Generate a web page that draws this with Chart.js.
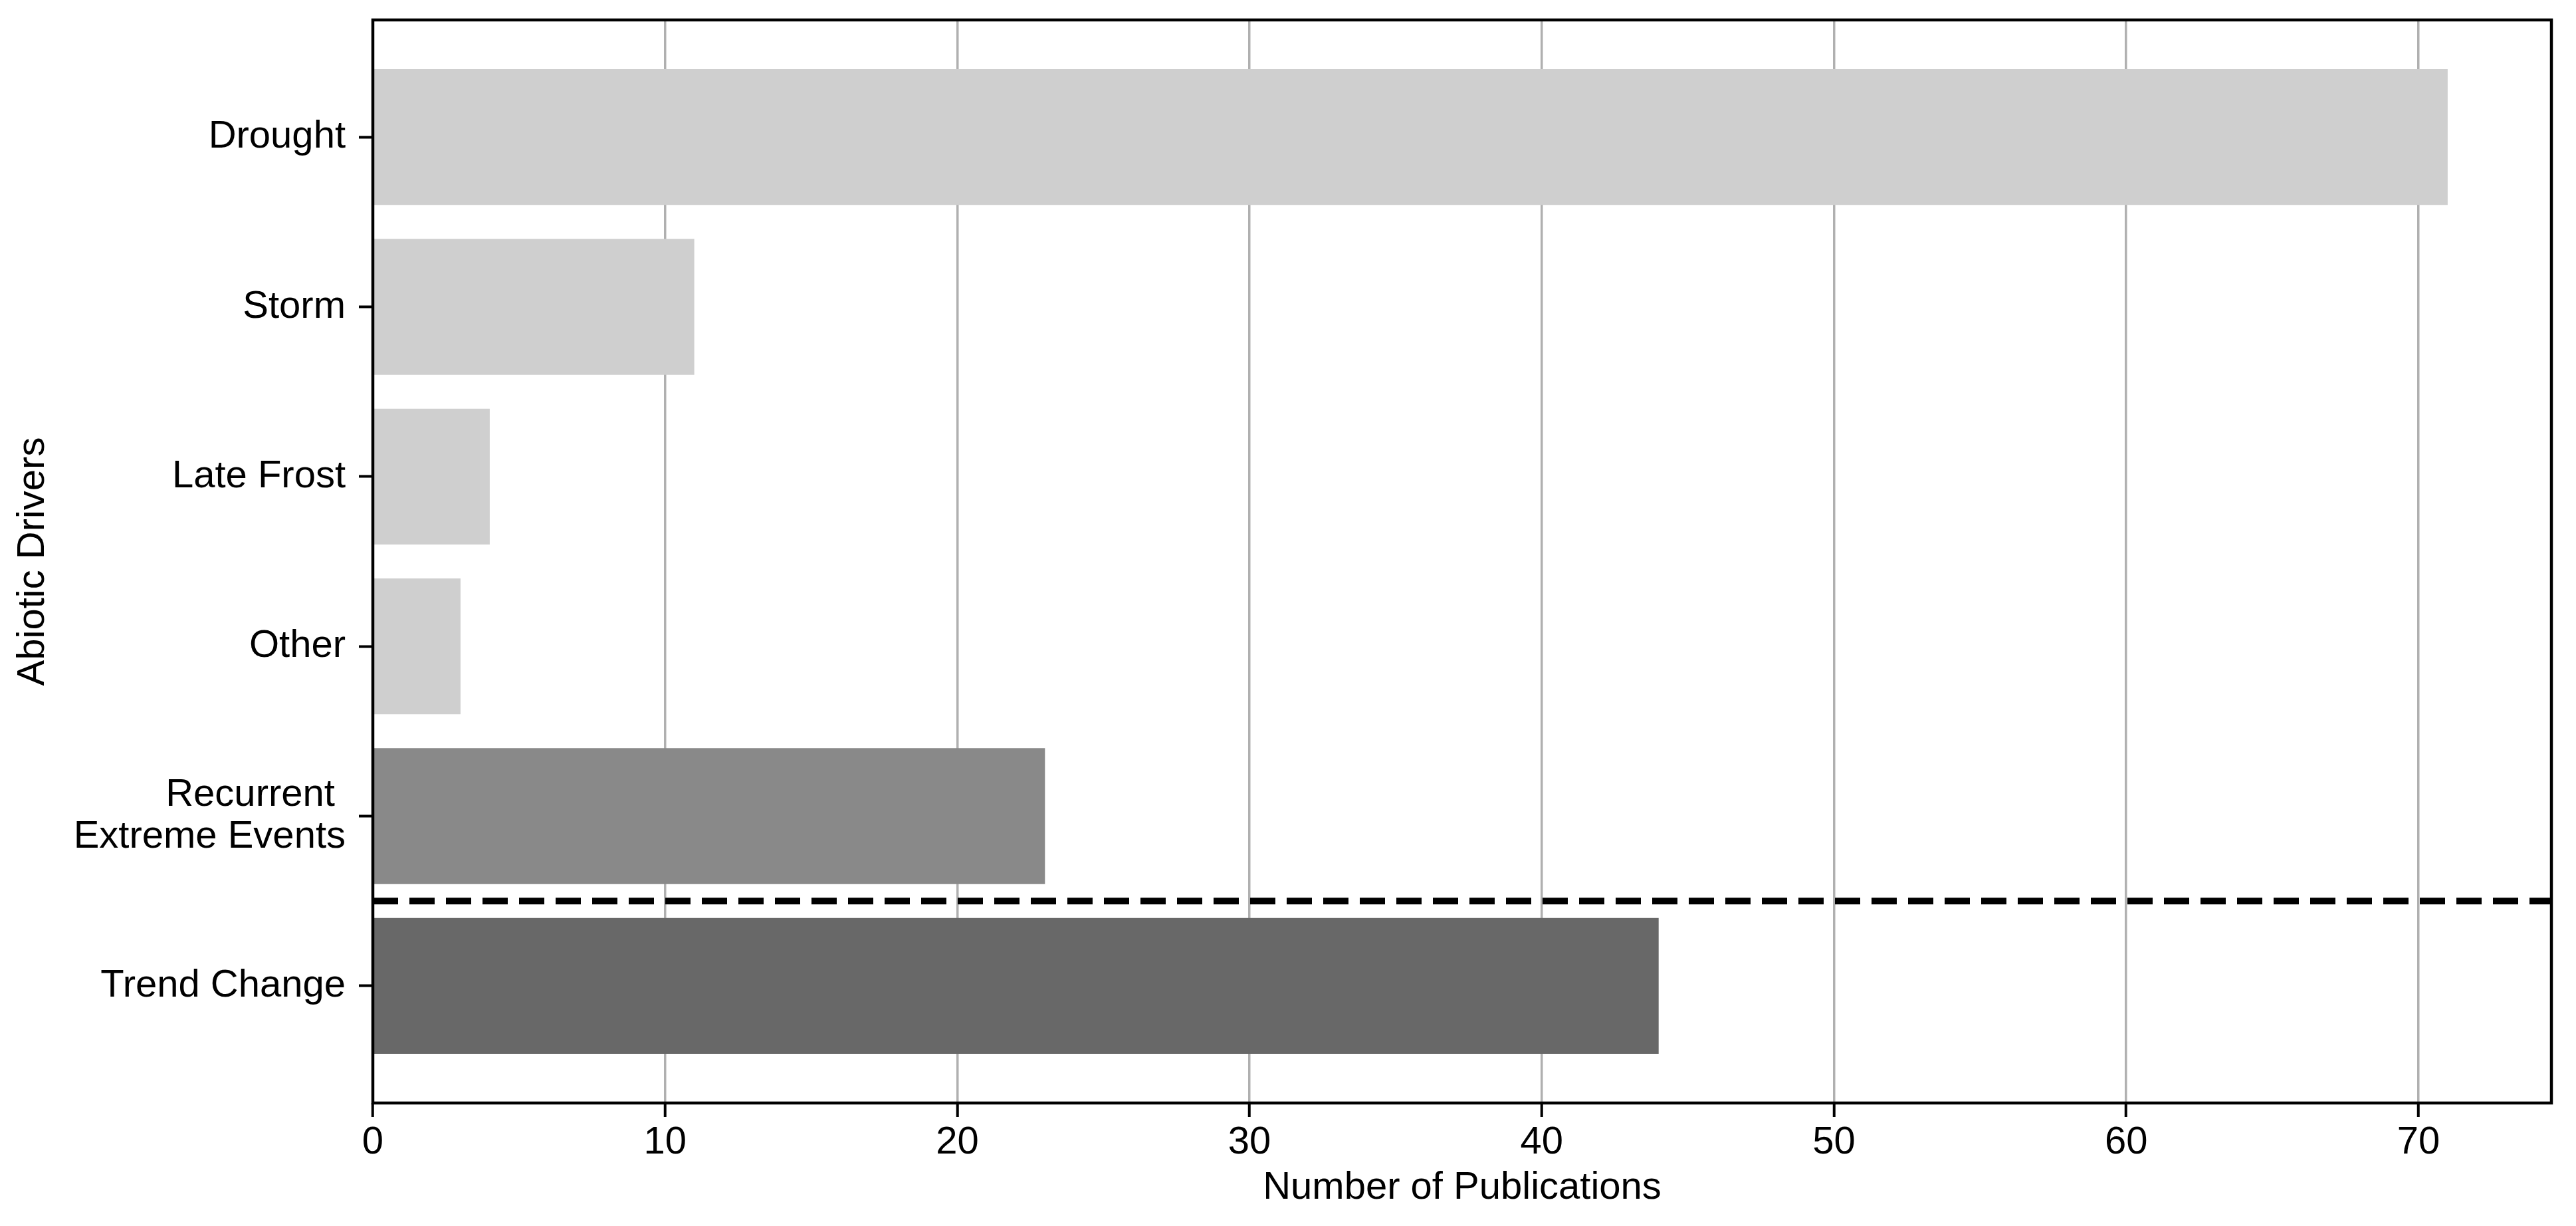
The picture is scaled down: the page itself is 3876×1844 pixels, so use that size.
<!DOCTYPE html>
<html>
<head>
<meta charset="utf-8">
<script src="https://cdn.jsdelivr.net/npm/chart.js@4/dist/chart.umd.min.js"></script>
<style>
  html, body { margin: 0; padding: 0; background: #fff; }
  canvas { display: block; }
</style>
</head>
<body>
<canvas id="chart" width="3876" height="1844"></canvas>
<script>
// --- datos ---
const drivers = ['Drought', 'Storm', 'Late Frost', 'Other', ['Recurrent ', 'Extreme Events'], 'Trend Change'];
const publications = [71, 11, 4, 3, 23, 44];
const barColors = ['#cfcfcf', '#cfcfcf', '#cfcfcf', '#cfcfcf', '#898989', '#686868'];
const xTicks = [0, 10, 20, 30, 40, 50, 60, 70];
const separatorAt = 4.5; // linea discontinua entre "Recurrent" y "Trend Change"

const FONT = "'Liberation Sans', Arial, Helvetica, sans-serif";

// marco y linea discontinua encima de las barras
const framePlugin = {
    id: 'frame',
    afterDatasetsDraw(chart) {
        const { ctx, chartArea: a, scales } = chart;
        const y = scales.y.getPixelForValue(separatorAt);
        ctx.save();
        ctx.strokeStyle = '#000';
        ctx.lineWidth = 10;
        ctx.setLineDash([38, 17]);
        ctx.beginPath();
        ctx.moveTo(a.left, y);
        ctx.lineTo(a.right, y);
        ctx.stroke();
        ctx.setLineDash([]);
        ctx.lineWidth = 4.5;
        ctx.strokeRect(a.left, a.top, a.right - a.left, a.bottom - a.top);
        ctx.restore();
    }
};

new Chart(document.getElementById('chart'), {
    type: 'bar',
    data: {
        datasets: [{
            data: publications.map((v, i) => ({ x: v, y: i })),
            backgroundColor: barColors,
            borderWidth: 0,
            categoryPercentage: 1.0,
            barPercentage: 0.8
        }]
    },
    options: {
        indexAxis: 'y',
        responsive: false,
        animation: false,
        devicePixelRatio: 1,
        layout: { padding: { left: 0, top: 30, right: 37, bottom: 0 } },
        plugins: {
            legend: { display: false },
            tooltip: { enabled: false }
        },
        scales: {
            x: {
                type: 'linear',
                min: 0,
                max: 74.55,
                afterBuildTicks: axis => { axis.ticks = xTicks.map(v => ({ value: v })); },
                afterFit: scale => {
                    scale.height = 185;
                    scale.paddingLeft = 0;
                    scale.paddingRight = 0;
                },
                border: { display: false },
                grid: {
                    color: '#b0b0b0',
                    lineWidth: 3.5,
                    tickColor: '#000',
                    tickWidth: 4,
                    tickLength: 21
                },
                ticks: {
                    color: '#000',
                    font: { family: FONT, size: 58 },
                    padding: 4,
                    maxRotation: 0
                },
                title: {
                    display: true,
                    text: 'Number of Publications',
                    color: '#000',
                    font: { family: FONT, size: 58 },
                    padding: { top: 0, bottom: 22 }
                }
            },
            y: {
                type: 'linear',
                reverse: true,
                offset: false,
                min: -0.69,
                max: 5.69,
                afterBuildTicks: axis => { axis.ticks = drivers.map((d, i) => ({ value: i })); },
                afterFit: scale => {
                    scale.width = 561;
                    scale.paddingTop = 0;
                    scale.paddingBottom = 0;
                },
                border: { display: false },
                grid: {
                    offset: false,
                    drawOnChartArea: false,
                    color: '#000',
                    tickColor: '#000',
                    tickWidth: 4,
                    tickLength: 21
                },
                ticks: {
                    color: '#000',
                    font: { family: FONT, size: 58, lineHeight: 1.07 },
                    padding: 20,
                    callback: value => drivers[value]
                },
                title: {
                    display: true,
                    text: 'Abiotic Drivers',
                    color: '#000',
                    font: { family: FONT, size: 58 },
                    padding: { top: 15, bottom: 0 }
                }
            }
        }
    },
    plugins: [framePlugin]
});
</script>
</body>
</html>
